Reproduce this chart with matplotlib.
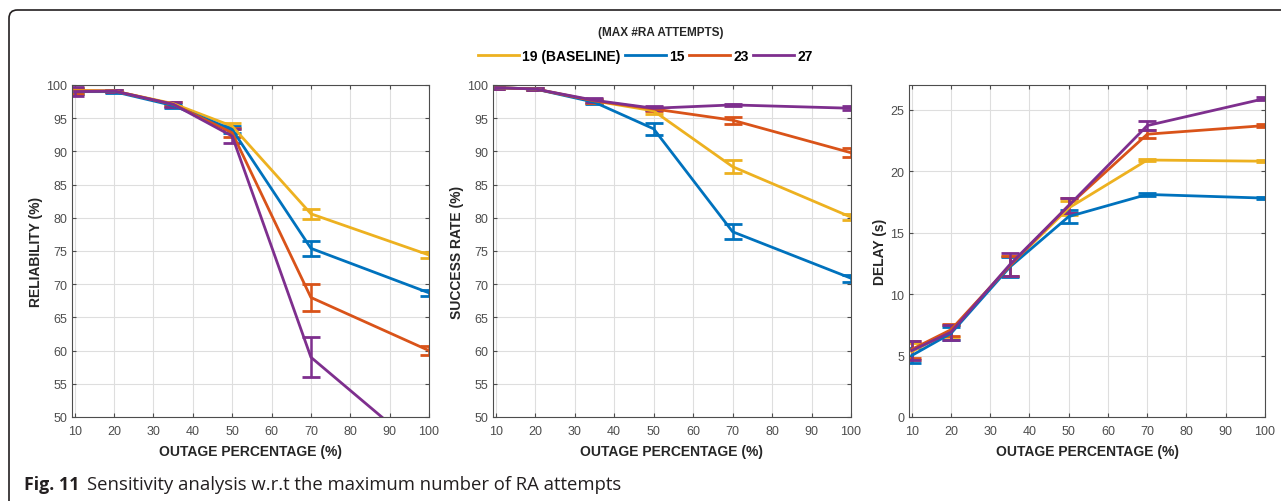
import matplotlib.pyplot as plt
from matplotlib.patches import FancyBboxPatch
from matplotlib.lines import Line2D

plt.rcParams['font.family'] = ['Liberation Sans', 'DejaVu Sans']

outage = [10, 20, 35, 50, 70, 100]
series_names = ['19 (BASELINE)', '15', '23', '27']
colors = ['#EDB120', '#0072BD', '#D95319', '#7E2F8E']

# reliability (%)
rel_19 = [99.2, 99.1, 97.2, 93.8, 80.6, 74.4]
rel_15 = [99.0, 99.0, 96.9, 93.3, 75.4, 68.7]
rel_23 = [99.1, 99.1, 97.1, 92.8, 68.0, 60.0]
rel_27 = [99.0, 99.1, 97.1, 92.3, 59.0, 44.0]
rel_err_19 = [0.4, 0.2, 0.3, 0.5, 0.8, 0.4]
rel_err_15 = [0.4, 0.2, 0.3, 0.6, 1.1, 0.5]
rel_err_23 = [0.5, 0.2, 0.3, 0.7, 2.0, 0.7]
rel_err_27 = [0.7, 0.2, 0.4, 1.0, 3.0, 0.8]

# success rate (%)
suc_19 = [99.6, 99.4, 97.6, 96.1, 87.7, 80.1]
suc_15 = [99.6, 99.4, 97.4, 93.4, 77.9, 70.9]
suc_23 = [99.6, 99.4, 97.6, 96.4, 94.7, 89.8]
suc_27 = [99.6, 99.4, 97.7, 96.5, 97.0, 96.5]
suc_err_19 = [0.2, 0.1, 0.3, 0.4, 1.0, 0.5]
suc_err_15 = [0.2, 0.1, 0.3, 0.9, 1.1, 0.5]
suc_err_23 = [0.2, 0.1, 0.3, 0.3, 0.5, 0.7]
suc_err_27 = [0.2, 0.1, 0.3, 0.3, 0.2, 0.3]

# delay (s)
del_19 = [5.3, 7.0, 12.3, 17.0, 20.9, 20.8]
del_15 = [5.0, 6.8, 12.2, 16.3, 18.1, 17.8]
del_23 = [5.5, 7.1, 12.3, 17.2, 23.0, 23.7]
del_27 = [5.4, 6.9, 12.4, 17.2, 23.7, 25.9]
del_err_19 = [0.7, 0.5, 0.8, 0.6, 0.1, 0.1]
del_err_15 = [0.6, 0.5, 0.8, 0.5, 0.1, 0.1]
del_err_23 = [0.7, 0.5, 0.8, 0.6, 0.3, 0.1]
del_err_27 = [0.8, 0.6, 0.9, 0.6, 0.4, 0.1]

panels = [
    ('RELIABILITY (%)', [rel_19, rel_15, rel_23, rel_27],
     [rel_err_19, rel_err_15, rel_err_23, rel_err_27], (50, 100), range(50, 101, 5)),
    ('SUCCESS RATE (%)', [suc_19, suc_15, suc_23, suc_27],
     [suc_err_19, suc_err_15, suc_err_23, suc_err_27], (50, 100), range(50, 101, 5)),
    ('DELAY (s)', [del_19, del_15, del_23, del_27],
     [del_err_19, del_err_15, del_err_23, del_err_27], (0, 27), range(0, 26, 5)),
]

fig = plt.figure(figsize=(12.81, 5.02), dpi=100)

# rounded frame around the figure
frame = FancyBboxPatch((9 / 1281, -0.2), 1.2, 1 - 11 / 502 + 0.2,
                       boxstyle='round,pad=0,rounding_size=0.0065',
                       transform=fig.transFigure, facecolor='none',
                       edgecolor='#231f20', linewidth=1.2, mutation_aspect=1281 / 502)
fig.patches.append(frame)

lefts = [72 / 1281, 493 / 1281, 909 / 1281]
widths = [357 / 1281, 358 / 1281, 356 / 1281]
bottom = (502 - 418) / 502
height = (418 - 86) / 502

for i, (ylabel, ys, errs, ylim, yticks) in enumerate(panels):
    ax = fig.add_axes([lefts[i], bottom, widths[i], height])
    for y, e, c in zip(ys, errs, colors):
        ax.errorbar(outage, y, yerr=e, color=c, linewidth=2, elinewidth=1.8,
                    capsize=6.5, capthick=2)
    ax.set_xlim(9.3, 100)
    ax.set_ylim(*ylim)
    ax.set_xticks(range(10, 101, 10))
    ax.set_yticks(list(yticks))
    ax.grid(True, color='#dedede', linewidth=0.8)
    ax.set_axisbelow(True)
    ax.tick_params(direction='in', top=True, right=True, labelsize=9,
                   colors='#4d4d4d', length=3)
    ax.tick_params(axis='x', pad=6)
    for s in ax.spines.values():
        s.set_color('#4d4d4d')
    ax.set_xlabel('OUTAGE PERCENTAGE (%)', fontsize=10, fontweight='bold',
                  color='#262626', labelpad=4.5)
    ax.set_ylabel(ylabel, fontsize=10, fontweight='bold', color='#262626', labelpad=2.5)

handles = [Line2D([], [], color=c, linewidth=2) for c in colors]
leg = fig.legend(handles, series_names, loc='center', bbox_to_anchor=(645 / 1281, 1 - 57 / 502),
                 ncol=4, frameon=False, handlelength=3, handletextpad=0.2, columnspacing=0.3,
                 prop={'weight': 'bold', 'size': 10})
fig.text(661 / 1281, 1 - 33 / 502, '(MAX #RA ATTEMPTS)', ha='center', va='center',
         fontsize=8.5, fontweight='bold', color='#262626')

fig.text(24 / 1281, 1 - 485 / 502, 'Fig. 11', ha='left', va='center', fontsize=12.8,
         fontweight='bold', color='#231f20', family=['Open Sans', 'DejaVu Sans'])
fig.text(87 / 1281, 1 - 485 / 502, 'Sensitivity analysis w.r.t the maximum number of RA attempts',
         ha='left', va='center', fontsize=13.3, color='#231f20',
         family=['Open Sans', 'DejaVu Sans'])

fig.savefig('out.png', dpi=100)
